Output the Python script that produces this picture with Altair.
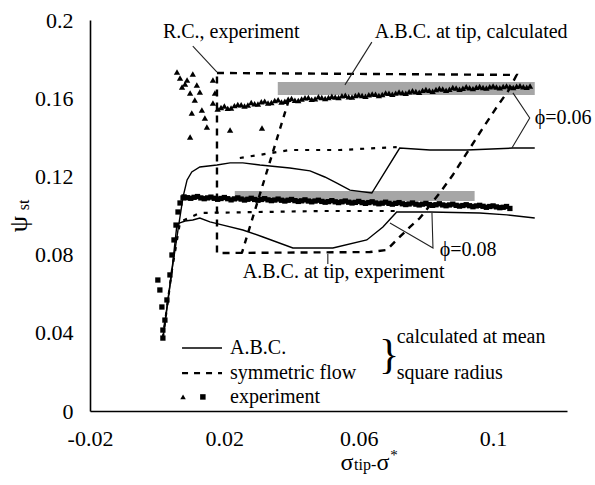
import altair as alt
import pandas as pd

FONT = "Liberation Serif"

# ---------------- data ----------------
# A.B.C. (solid), phi = 0.06
abc06_x = [0.0017, 0.0044, 0.0062, 0.0077, 0.0089, 0.0103, 0.0127, 0.0178, 0.0217, 0.0255, 0.0306,
           0.0395, 0.0455, 0.0499, 0.0535, 0.0574, 0.0639, 0.0722, 0.0812, 0.0922, 0.1059, 0.1124]
abc06_y = [0.0373, 0.0721, 0.0926, 0.1095, 0.1182, 0.1223, 0.1248, 0.1258, 0.1269, 0.1269, 0.1258,
           0.1243, 0.1228, 0.1197, 0.1166, 0.1130, 0.1115, 0.1345, 0.1335, 0.1335, 0.1345, 0.1345]
# A.B.C. (solid), phi = 0.08
abc08_x = [0.0017, 0.0044, 0.0059, 0.0083, 0.0106, 0.0127, 0.0157, 0.0196, 0.0255, 0.0315, 0.0404,
           0.0523, 0.0624, 0.0672, 0.0713, 0.0812, 0.0960, 0.1041, 0.1124]
abc08_y = [0.0373, 0.0721, 0.0957, 0.0972, 0.0977, 0.0987, 0.0967, 0.0951, 0.0926, 0.0890, 0.0834,
           0.0834, 0.0875, 0.0941, 0.1018, 0.1018, 0.1013, 0.1003, 0.0987]
# symmetric flow (dashed), phi = 0.08
sym08_x = [0.0017, 0.0044, 0.0068, 0.0127, 0.0493, 0.0722]
sym08_y = [0.0373, 0.0721, 0.0967, 0.1013, 0.1023, 0.1023]
# symmetric flow (dashed), phi = 0.06
sym06_x = [0.0246, 0.0395, 0.0544, 0.0713]
sym06_y = [0.1294, 0.1335, 0.1335, 0.1350]
# experimental boundary loop (R.C. / A.B.C. at tip, experiment)
loop_x = [0.0178, 0.1070, 0.1047, 0.1011, 0.0960, 0.0922, 0.0880, 0.0841, 0.0782, 0.0752, 0.0713,
          0.0684, 0.0633, 0.0178, 0.0178]
loop_y = [0.1729, 0.1719, 0.1642, 0.1555, 0.1422, 0.1320, 0.1207, 0.1115, 0.0987, 0.0941, 0.0875,
          0.0824, 0.0813, 0.0808, 0.1729]
slant_x = [0.0392, 0.0252]
slant_y = [0.1591, 0.0808]

# experiment, phi = 0.06 (triangles)
tri_x = [0.0059, 0.0106, 0.0089, 0.0074, 0.0098, 0.0127, 0.0103, 0.0133, 0.0142, 0.0148, 0.0098,
         0.0166, 0.0172, 0.0166, 0.0217, 0.0312, 0.0083, 0.0112, 0.0068, 0.0118,
         0.018, 0.020, 0.022, 0.024, 0.026, 0.028, 0.030, 0.032, 0.034, 0.036, 0.038, 0.040,
         0.042, 0.044, 0.046, 0.048, 0.050, 0.052, 0.054, 0.056, 0.058, 0.060, 0.062, 0.064,
         0.066, 0.068, 0.070, 0.072, 0.074, 0.076, 0.078, 0.080, 0.082, 0.084, 0.086, 0.088,
         0.090, 0.092, 0.094, 0.096, 0.098, 0.100, 0.102, 0.104, 0.106, 0.108, 0.110, 0.111]
tri_y = [0.1734, 0.1724, 0.1693, 0.1657, 0.1627, 0.1632, 0.1524, 0.1540, 0.1499, 0.1453, 0.1402,
         0.1693, 0.1627, 0.1575, 0.1437, 0.1448, 0.1673, 0.1591, 0.1703, 0.1668,
         0.1545, 0.1560, 0.1550, 0.1568, 0.1560, 0.1578, 0.1570, 0.1585, 0.1578, 0.1592, 0.1584, 0.1598,
         0.1588, 0.1602, 0.1594, 0.1607, 0.1598, 0.1610, 0.1603, 0.1615, 0.1606, 0.1618, 0.1610, 0.1622,
         0.1614, 0.1627, 0.1620, 0.1632, 0.1625, 0.1638, 0.1630, 0.1645, 0.1636, 0.1650, 0.1641, 0.1655,
         0.1646, 0.1658, 0.1649, 0.1660, 0.1652, 0.1662, 0.1654, 0.1663, 0.1655, 0.1664, 0.1656, 0.1662]
tri_mid_x = [0.019, 0.021, 0.023, 0.025, 0.027, 0.029, 0.031, 0.033, 0.035, 0.037, 0.039, 0.041,
             0.043, 0.045, 0.047, 0.049, 0.051, 0.053, 0.055, 0.057, 0.059, 0.061, 0.063, 0.065,
             0.067, 0.069, 0.071, 0.073, 0.075, 0.077, 0.079, 0.081, 0.083, 0.085, 0.087, 0.089,
             0.091, 0.093, 0.095, 0.097, 0.099, 0.101, 0.103, 0.105, 0.107, 0.109]
tri_mid_y = [0.1552, 0.1548, 0.1562, 0.1566, 0.1565, 0.1572, 0.1582, 0.1575, 0.1588, 0.1580, 0.1595, 0.1590,
             0.1596, 0.1604, 0.1597, 0.1604, 0.1603, 0.1606, 0.1612, 0.1608, 0.1614, 0.1614, 0.1618, 0.1620,
             0.1619, 0.1625, 0.1626, 0.1628, 0.1633, 0.1634, 0.1640, 0.1640, 0.1644, 0.1647, 0.1646, 0.1652,
             0.1651, 0.1654, 0.1656, 0.1655, 0.1658, 0.1657, 0.1660, 0.1659, 0.1661, 0.1659]
# experiment, phi = 0.08 (squares)
sq_x = [0.0002, 0.0008, 0.0014, 0.0017, 0.0017, 0.0023, 0.0029, 0.0038, 0.0044, 0.0050, 0.0056,
        0.0062, 0.0068, 0.0077,
        0.008, 0.010, 0.012, 0.014, 0.016, 0.018, 0.020, 0.022, 0.024, 0.026, 0.028, 0.030,
        0.032, 0.034, 0.036, 0.038, 0.040, 0.042, 0.044, 0.046, 0.048, 0.050, 0.052, 0.054,
        0.056, 0.058, 0.060, 0.062, 0.064, 0.066, 0.068, 0.070, 0.072, 0.074, 0.076, 0.078,
        0.080, 0.082, 0.084, 0.086, 0.088, 0.090, 0.092, 0.094, 0.096, 0.098, 0.100, 0.102,
        0.104, 0.105]
sq_y = [0.0670, 0.0619, 0.0532, 0.0414, 0.0373, 0.0465, 0.0568, 0.0696, 0.0798, 0.0875, 0.0951,
        0.1018, 0.1064, 0.1090,
        0.1095, 0.1088, 0.1097, 0.1086, 0.1094, 0.1083, 0.1092, 0.1080, 0.1090, 0.1079, 0.1088, 0.1078,
        0.1086, 0.1076, 0.1084, 0.1074, 0.1082, 0.1072, 0.1080, 0.1070, 0.1078, 0.1068, 0.1076, 0.1066,
        0.1074, 0.1064, 0.1072, 0.1062, 0.1070, 0.1060, 0.1068, 0.1058, 0.1066, 0.1056, 0.1064, 0.1054,
        0.1062, 0.1052, 0.1060, 0.1050, 0.1058, 0.1048, 0.1055, 0.1045, 0.1052, 0.1042, 0.1049, 0.1040,
        0.1046, 0.1036]
sq_mid_x = [0.009, 0.011, 0.013, 0.015, 0.017, 0.019, 0.021, 0.023, 0.025, 0.027, 0.029, 0.031,
            0.033, 0.035, 0.037, 0.039, 0.041, 0.043, 0.045, 0.047, 0.049, 0.051, 0.053, 0.055,
            0.057, 0.059, 0.061, 0.063, 0.065, 0.067, 0.069, 0.071, 0.073, 0.075, 0.077, 0.079,
            0.081, 0.083, 0.085, 0.087, 0.089, 0.091, 0.093, 0.095, 0.097, 0.099, 0.101, 0.103]
sq_mid_y = [0.1091, 0.1093, 0.1090, 0.1090, 0.1088, 0.1087, 0.1086, 0.1085, 0.1084, 0.1083, 0.1082, 0.1082,
            0.1080, 0.1079, 0.1078, 0.1078, 0.1076, 0.1075, 0.1074, 0.1074, 0.1072, 0.1071, 0.1070, 0.1070,
            0.1068, 0.1067, 0.1066, 0.1066, 0.1064, 0.1063, 0.1062, 0.1062, 0.1060, 0.1059, 0.1058, 0.1058,
            0.1056, 0.1055, 0.1054, 0.1054, 0.1052, 0.1051, 0.1050, 0.1049, 0.1047, 0.1046, 0.1044, 0.1042]

# A.B.C. at tip, calculated (grey bands): x1, x2, y1, y2
box_x1 = [0.0359, 0.0231]
box_x2 = [0.1124, 0.0945]
box_y1 = [0.1616, 0.1074]
box_y2 = [0.1683, 0.1125]

# annotation texts
ann_text = ["R.C., experiment", "A.B.C. at tip, calculated", "A.B.C. at tip, experiment",
            "\u03d5=0.06", "\u03d5=0.08", "A.B.C.", "symmetric flow", "experiment",
            "calculated at mean", "square radius"]
ann_x = [0.0017, 0.0648, 0.0255, 0.1124, 0.0841, 0.0217, 0.0217, 0.0217, 0.0713, 0.0713]
ann_y = [0.1939, 0.1939, 0.0711, 0.1499, 0.0824, 0.0322, 0.0194, 0.0072, 0.0379, 0.0194]

# pointer lines (each a small path)
ptr_id = [0, 0, 1, 1, 2, 2, 3, 3, 3, 4, 4, 4]
ptr_x = [0.0106, 0.0178, 0.0639, 0.0559, 0.0508, 0.0508, 0.1059, 0.1109, 0.1056, 0.0693, 0.0821, 0.0818]
ptr_y = [0.1867, 0.1734, 0.1887, 0.1668, 0.0803, 0.0752, 0.1627, 0.1499, 0.1345, 0.0962, 0.0834, 0.1013]

# legend samples
leg_solid_x = [0.0074, 0.0193]
leg_solid_y = [0.0322, 0.0322]
leg_dash_x = [0.0074, 0.0193]
leg_dash_y = [0.0194, 0.0194]
leg_tri_x, leg_tri_y = [0.0077], [0.0072]
leg_sq_x, leg_sq_y = [0.0136], [0.0072]

# ---------------- chart ----------------
XS = alt.Scale(domain=[-0.02, 0.122], nice=False, zero=False)
YS = alt.Scale(domain=[0, 0.2], nice=False, zero=False)
XA = alt.Axis(values=[-0.02, 0.02, 0.06, 0.1], format="~g",
              labelExpr="datum.value < 0 ? '-0.02' : datum.label",
              ticks=False, grid=False, domainColor="black", domainWidth=1.6,
              labelFont=FONT, labelFontSize=22, labelColor="black", labelPadding=17,
              title=None, labelFlush=False)
YA = alt.Axis(values=[0, 0.04, 0.08, 0.12, 0.16, 0.2], format="~g",
              ticks=False, grid=False, domainColor="black", domainWidth=1.6,
              labelFont=FONT, labelFontSize=22, labelColor="black", labelPadding=17,
              title=None, labelFlush=False)


def enc(x="x", y="y"):
    return dict(x=alt.X(f"{x}:Q", scale=XS, axis=XA), y=alt.Y(f"{y}:Q", scale=YS, axis=YA))


def path(xs, ys, **kw):
    df = pd.DataFrame({"x": xs, "y": ys, "o": list(range(len(xs)))})
    return alt.Chart(df).mark_line(color="black", **kw).encode(order="o:Q", **enc())


def pts(xs, ys, shape, size):
    return alt.Chart(pd.DataFrame({"x": xs, "y": ys})).mark_point(
        shape=shape, filled=True, color="black", size=size, opacity=1).encode(**enc())


boxes = alt.Chart(pd.DataFrame({"x": box_x1, "x2": box_x2, "y": box_y1, "y2": box_y2})).mark_rect(
    color="#a6a6a6").encode(x2="x2:Q", y2="y2:Q", **enc())

layers = [boxes]
layers.append(path(loop_x, loop_y, strokeWidth=2.4, strokeDash=[7, 6]))
layers.append(path(slant_x, slant_y, strokeWidth=2.4, strokeDash=[6, 6]))
layers.append(path(sym06_x, sym06_y, strokeWidth=2.2, strokeDash=[4, 7]))
layers.append(path(sym08_x, sym08_y, strokeWidth=2.2, strokeDash=[4, 7]))
layers.append(path(abc06_x, abc06_y, strokeWidth=1.4))
layers.append(path(abc08_x, abc08_y, strokeWidth=1.4))

ptr_df = pd.DataFrame({"x": ptr_x, "y": ptr_y, "g": ptr_id, "o": list(range(len(ptr_x)))})
layers.append(alt.Chart(ptr_df).mark_line(color="#222", strokeWidth=1.1).encode(
    detail="g:N", order="o:Q", **enc()))

layers.append(pts(tri_x, tri_y, "triangle-up", 40))
layers.append(pts(tri_mid_x, tri_mid_y, "triangle-up", 40))
layers.append(pts(sq_x, sq_y, "square", 28))
layers.append(pts(sq_mid_x, sq_mid_y, "square", 28))

# legend
layers.append(path(leg_solid_x, leg_solid_y, strokeWidth=1.4))
layers.append(path(leg_dash_x, leg_dash_y, strokeWidth=2.2, strokeDash=[6, 6]))
layers.append(pts(leg_tri_x, leg_tri_y, "triangle-up", 30))
layers.append(pts(leg_sq_x, leg_sq_y, "square", 30))

# annotation texts
layers.append(alt.Chart(pd.DataFrame({"x": ann_x, "y": ann_y, "t": ann_text})).mark_text(
    font=FONT, fontSize=20, align="left", baseline="middle", color="black").encode(
    text="t:N", **enc()))
# brace
layers.append(alt.Chart(pd.DataFrame({"x": [0.0690], "y": [0.0285], "t": ["}"]})).mark_text(
    font=FONT, fontSize=42, align="center", baseline="middle", color="black").encode(
    text="t:N", **enc()))

# axis titles (psi_st, sigma_tip - sigma*)
def ptext(t, px, py, size, angle=0, align="center", baseline="middle"):
    kw = dict(font=FONT, fontSize=size, align=align, baseline=baseline, color="black")
    if angle:
        kw["angle"] = angle
    return alt.Chart(pd.DataFrame({"t": [t]})).mark_text(**kw).encode(
        text="t:N", x=alt.value(px), y=alt.value(py))

layers.append(ptext("\u03c8", 19 - 90, 224 - 20, 26, angle=270))
layers.append(ptext("st", 24 - 90, 205 - 20, 16, angle=270))
layers.append(ptext("\u03c3", 347 - 90, 470 - 20, 24, baseline="alphabetic"))
layers.append(ptext("tip-", 354 - 90, 470 - 20, 16, align="left", baseline="alphabetic"))
layers.append(ptext("\u03c3", 383 - 90, 470 - 20, 24, baseline="alphabetic"))
layers.append(ptext("*", 394 - 90, 455 - 20, 15))

chart = alt.layer(*layers).properties(
    width=477, height=391,
    padding={"left": 90, "top": 20, "right": 28, "bottom": 74},
    autosize=alt.AutoSizeParams(type="none"),
    background="white",
).configure_view(stroke=None)

chart.save("out.html", embed_options={"renderer": "svg", "actions": False})
